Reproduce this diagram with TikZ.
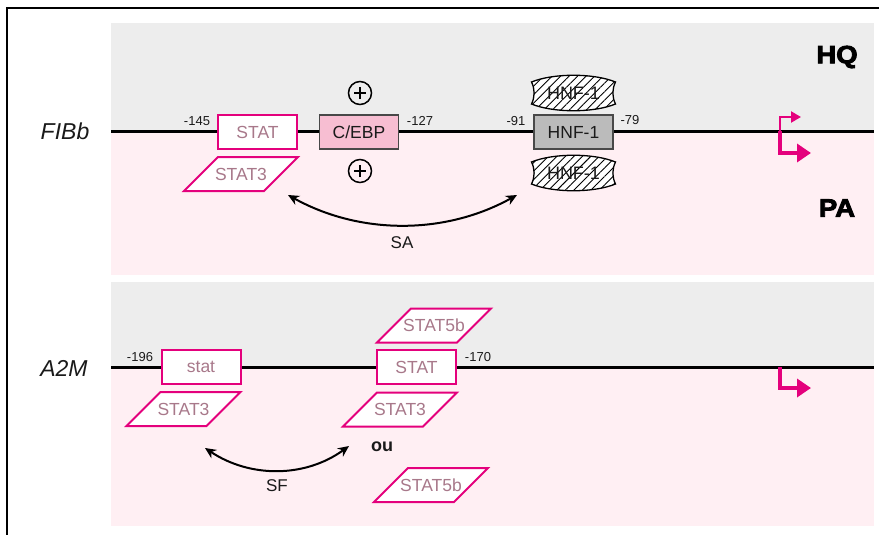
\documentclass[tikz,border=0pt]{standalone}
\usepackage{fontspec}
\setmainfont{Liberation Sans}
\newfontfamily\heavyfont[BoldFeatures={FakeBold=3.5,FakeStretch=1.1}]{Liberation Sans}
\usetikzlibrary{arrows.meta,patterns.meta}
\definecolor{mag}{HTML}{E4007C}
\definecolor{mauve}{HTML}{A8788A}
\definecolor{panelgray}{HTML}{EDEDED}
\definecolor{panelpink}{HTML}{FFEFF3}
\definecolor{cebpfill}{HTML}{F7BED2}
\definecolor{hnfgray}{HTML}{BBBBBB}
\definecolor{ink}{HTML}{1A1A1A}
\tikzset{
  gene/.style={font=\fontsize{23}{23}\selectfont\itshape, inner sep=0pt, text=ink},
  posn/.style={font=\fontsize{13}{13}\selectfont, inner sep=0pt, text=ink},
  cond/.style={font=\fontsize{25}{25}\selectfont\heavyfont\bfseries, inner sep=0pt},
  lbl/.style={font=\fontsize{17}{17}\selectfont, inner sep=0pt, text=ink},
  boldlbl/.style={font=\fontsize{18}{18}\selectfont\bfseries, inner sep=0pt, text=ink},
  statbox/.style={draw=mag, line width=2pt, fill=white, minimum width=79pt, minimum height=34pt,
    inner sep=0pt, text=mauve, font=\fontsize{17.5}{17.5}\selectfont},
  factorbox/.style={draw=ink!80, line width=1.2pt, minimum width=79pt, minimum height=34pt,
    inner sep=0pt, text=ink, font=\fontsize{17.5}{17.5}\selectfont},
  paratext/.style={text=mauve, font=\fontsize{17.5}{17.5}\selectfont, inner sep=0pt},
  hnftext/.style={text=ink, font=\fontsize{18}{18}\selectfont, inner sep=0pt},
  dna/.style={line width=3pt, black},
  frameline/.style={line width=1.5pt, black},
  bendarrow/.style={line width=2pt, black, {Stealth[length=11pt,width=10pt]}-{Stealth[length=11pt,width=10pt]}},
  promsmall/.style={draw=mag, line width=2.2pt, line join=miter, -{Triangle[length=10pt,width=11pt]}},
  prombig/.style={draw=mag, line width=4.5pt, line join=miter, -{Triangle[length=14pt,width=18pt]}},
  plusnode/.style={circle, draw=black, line width=1.5pt, minimum size=23pt, inner sep=0pt},
  pics/parashape/.style={code={
    \draw[draw=mag, fill=white, line width=2pt, line join=miter]
      (-57,17) -- (23,17) -- (57,-17) -- (-23,-17) -- cycle;
  }},
  pics/hnfblob/.style={code={
    \path[preaction={fill=white}, pattern={Lines[angle=45,distance=6pt,line width=0.9pt]},
      draw=black, line width=1.3pt]
      (-42,-11) .. controls (-20,-20) and (20,-20) .. (42,-11)
      .. controls (38.5,-4) and (38.5,4) .. (42,11)
      .. controls (20,20) and (-20,20) .. (-42,11)
      .. controls (-38.5,4) and (-38.5,-4) .. (-42,-11) -- cycle;
  }},
  pics/plussign/.style={code={
    \draw[line width=2.6pt, black] (-6,0) -- (6,0) (0,-6) -- (0,6);
  }}
}
\begin{document}
\begin{tikzpicture}[x=1pt,y=-1pt]
\useasboundingbox (0,0) rectangle (879,535);
% frame
\draw[frameline] (7,535) -- (7,8) -- (879,8);
% panels
\fill[panelgray] (111,23) rectangle (874,131);
\fill[panelpink] (111,131) rectangle (874,275);
\fill[panelgray] (111,282) rectangle (874,367);
\fill[panelpink] (111,367) rectangle (874,526);

% ===== top panel: FIBb =====
\coordinate (dnaAstart) at (111,131);
\coordinate (dnaAend) at (874,131);
\draw[dna] (dnaAstart) -- (dnaAend);
\node[gene] (fibb) at (65,131) {FIBb};
\node[cond] (hq) at (837,57) {HQ};
\node[cond] (pa) at (837,208) {PA};

\node[posn] (p145) at (197,121) {-145};
\node[statbox] (statA) at (257.5,132) {STAT};
\node[factorbox, fill=cebpfill] (cebp) at (359,132) {C/EBP};
\node[posn] (p127) at (420,121) {-127};
\node[posn] (p91) at (516,121) {-91};
\node[factorbox, fill=hnfgray] (hnf) at (573.5,132) {HNF-1};
\node[posn] (p79) at (630,120) {-79};

\pic at (241,174) {parashape};
\node[paratext] (stat3A) at (241,174) {STAT3};

\node[plusnode] (plusUp) at (360,93) {};
\pic at (plusUp.center) {plussign};
\node[plusnode] (plusDown) at (360,171) {};
\pic at (plusDown.center) {plussign};

\pic at (573.5,93) {hnfblob};
\node[hnftext] (hnfUp) at (573.5,93) {HNF-1};
\pic at (573.5,173) {hnfblob};
\node[hnftext] (hnfDown) at (573.5,173) {HNF-1};

\coordinate (saL) at (288,195);
\coordinate (saR) at (517,195);
\draw[bendarrow] (saL) .. controls (360,235) and (445,235) .. (saR);
\node[lbl] (sa) at (402,243) {SA};

\coordinate (tssA) at (780,131);
\coordinate (tssAup) at (780,117);
\coordinate (tssAupEnd) at (801,117);
\coordinate (tssAdown) at (780,153);
\coordinate (tssAdownEnd) at (811,153);
\draw[promsmall] (tssA) -- (tssAup) -- (tssAupEnd);
\draw[prombig] (tssA) -- (tssAdown) -- (tssAdownEnd);

% ===== bottom panel: A2M =====
\coordinate (dnaBstart) at (111,367);
\coordinate (dnaBend) at (874,367);
\draw[dna] (dnaBstart) -- (dnaBend);
\node[gene] (a2m) at (64,368) {A2M};

\node[posn] (p196) at (140,357) {-196};
\node[statbox] (statB1) at (201,367) {stat};
\pic at (183.5,409) {parashape};
\node[paratext] (stat3B1) at (183.5,409) {STAT3};

\pic at (434,325.5) {parashape};
\node[paratext] (stat5bUp) at (434,325.5) {STAT5b};
\node[statbox] (statB2) at (416.5,367) {STAT};
\node[posn] (p170) at (478,357) {-170};
\pic at (400,409.5) {parashape};
\node[paratext] (stat3B2) at (400,409.5) {STAT3};
\node[boldlbl] (ou) at (382,447) {ou};
\pic at (431,485) {parashape};
\node[paratext] (stat5bDown) at (431,485) {STAT5b};

\coordinate (sfL) at (205,448);
\coordinate (sfR) at (349,446);
\draw[bendarrow] (sfL) .. controls (250,478) and (305,478) .. (sfR);
\node[lbl] (sf) at (277,486) {SF};

\coordinate (tssB) at (780,367);
\coordinate (tssBdown) at (780,388);
\coordinate (tssBdownEnd) at (811,388);
\draw[prombig] (tssB) -- (tssBdown) -- (tssBdownEnd);
\end{tikzpicture}
\end{document}
